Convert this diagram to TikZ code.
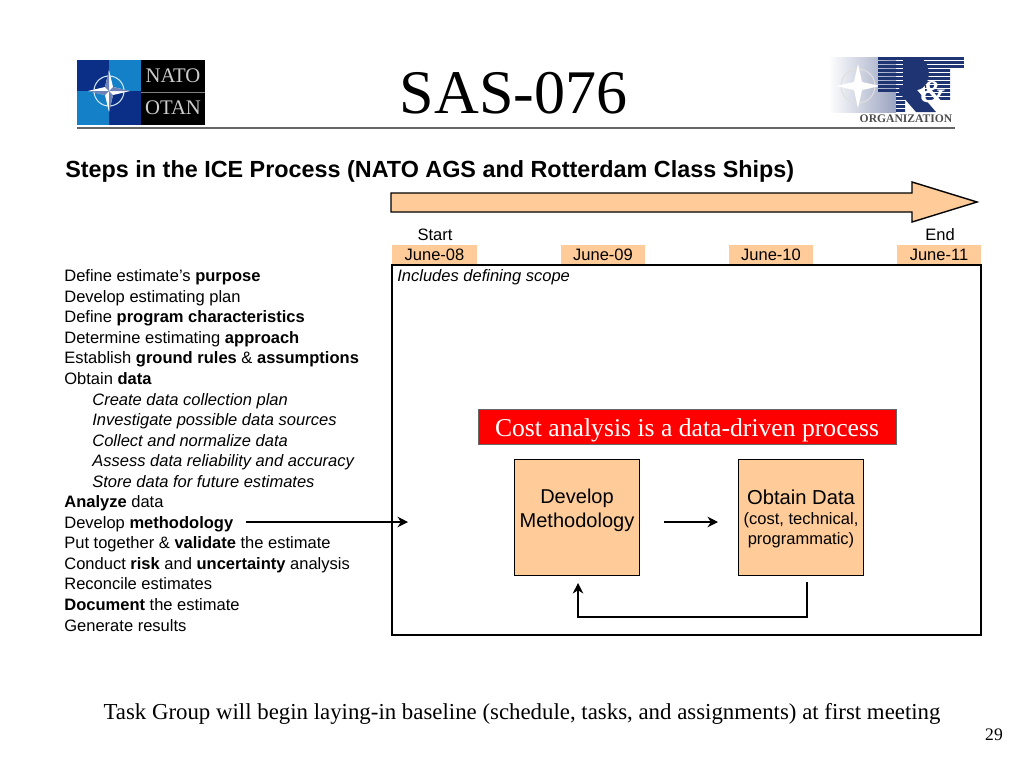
\documentclass[tikz,border=0pt]{standalone}
\usepackage{fontspec}
\setmainfont{Liberation Sans}
\newfontfamily\serifface{Liberation Serif}
\usetikzlibrary{arrows.meta}
\definecolor{tanfill}{HTML}{FFCC99}
\definecolor{natonavy}{HTML}{0B2F86}
\definecolor{natolight}{HTML}{1380C8}
\definecolor{rtnavy}{HTML}{1F3473}
\tikzset{
  listitem/.style={anchor=base west,inner sep=0pt,font=\fontsize{9.4}{11}\selectfont},
  subitem/.style={listitem,font=\fontsize{9.4}{11}\selectfont\itshape},
  datebox/.style={fill=tanfill,minimum width=48pt,minimum height=11pt,inner sep=0pt,font=\fontsize{9.4}{11}\selectfont},
  stepbox/.style={draw,fill=tanfill,minimum width=71pt,minimum height=66pt,inner sep=0pt},
  steptext/.style={inner sep=0pt,align=center,font=\fontsize{11.4}{13.6}\selectfont},
  flow/.style={semithick,-{Stealth[length=6pt,width=6pt]}},
}
\begin{document}
\begin{tikzpicture}[x=0.02cm,y=-0.02cm]
\useasboundingbox (0,0) rectangle (1024,768);
% nato logo
\fill[natonavy] (77,60) rectangle (109,91);
\fill[natolight] (109,60) rectangle (141,91);
\fill[natolight] (77,91) rectangle (109,125);
\fill[natonavy] (109,91) rectangle (141,125);
\fill[black] (141,60) rectangle (205,125);
\draw[gray,thin] (141,92) -- (205,92);
\draw[white!80!natolight,semithick] (109,91) circle [radius=15];
\fill[white] (109,70) -- (113,87) -- (130,91) -- (113,95) -- (109,112) -- (105,95) -- (88,91) -- (105,87) --cycle;
\fill[natonavy!60] (109,91) -- (113,87) -- (130,91) --cycle;
\fill[natonavy!60] (109,91) -- (105,95) -- (88,91) --cycle;
\fill[natonavy!60] (109,91) -- (105,87) -- (109,70) --cycle;
\fill[natonavy!60] (109,91) -- (113,95) -- (109,112) --cycle;
\node[text=white!80!black,inner sep=0pt,font=\serifface\fontsize{11.8}{12}\selectfont] (natoword) at (173,76) {NATO};
\node[text=white!80!black,inner sep=0pt,font=\serifface\fontsize{11.8}{12}\selectfont] (otanword) at (173,108) {OTAN};
% r&t logo
\shade[left color=white,right color=rtnavy!45] (828,57) rectangle (896,112);
\draw[white!75!gray,semithick] (858,86) circle [radius=17];
\fill[white] (858,64) -- (862,82) -- (880,86) -- (862,90) -- (858,108) -- (854,90) -- (836,86) -- (854,82) --cycle;
\begin{scope}
\clip (878,57) -- (964,57) -- (964,68) -- (950,68) -- (950,100) -- (925,100) -- (925,68) -- (905,68) -- (905,112) -- (896,112) -- (896,92) -- (878,92) --cycle;
\foreach \y in {57,61,...,109}
  \fill[rtnavy] (878,\y) rectangle (964,\y+2.5);
\end{scope}
\fill[rtnavy] (903,57) -- (915,57) .. controls (933,57) and (933,88) .. (917,90) -- (936,112) -- (916,112) -- (897,90) -- (903,86) --cycle;
\node[text=white,inner sep=0pt,font=\serifface\bfseries\itshape\fontsize{18}{18}\selectfont] (ampword) at (933,92) {\&};
\node[text=black!70,inner sep=0pt,font=\serifface\bfseries\fontsize{6.6}{7}\selectfont] (orgword) at (906,119) {ORGANIZATION};
% title
\node[inner sep=0pt,font=\serifface\fontsize{35.3}{36}\selectfont] (title) at (513.5,93) {SAS-076};
\draw[black!60,line width=1pt] (77,128) -- (955,128);
\node[anchor=base west,inner sep=0pt,font=\bfseries\fontsize{13.3}{14}\selectfont] (heading) at (65,177) {Steps in the ICE Process (NATO AGS and Rotterdam Class Ships)};
% timeline
\draw[fill=tanfill,thick] (391,193) -- (912,193) -- (912,182) -- (977,202) -- (912,222) -- (912,212) -- (391,212) --cycle;
\node[inner sep=0pt,font=\fontsize{9.4}{11}\selectfont] (start) at (435,235) {Start};
\node[inner sep=0pt,font=\fontsize{9.4}{11}\selectfont] (end) at (940,235) {End};
\node[datebox] (june08) at (434.5,254.5) {June-08};
\node[datebox] (june09) at (603,254.5) {June-09};
\node[datebox] (june10) at (771,254.5) {June-10};
\node[datebox] (june11) at (939,254.5) {June-11};
\draw[line width=0.9pt] (392,265) rectangle (981,635);
\node[subitem] (scope) at (397,281) {Includes defining scope};
% steps
\node[listitem] (item1) at (64,281) {Define estimate’s \textbf{purpose}};
\node[listitem] (item2) at (64,302) {Develop estimating plan};
\node[listitem] (item3) at (64,322) {Define \textbf{program characteristics}};
\node[listitem] (item4) at (64,343) {Determine estimating \textbf{approach}};
\node[listitem] (item5) at (64,363) {Establish \textbf{ground rules} \& \textbf{assumptions}};
\node[listitem] (item6) at (64,384) {Obtain \textbf{data}};
\node[subitem] (sub1) at (92,405) {Create data collection plan};
\node[subitem] (sub2) at (92,425) {Investigate possible data sources};
\node[subitem] (sub3) at (92,446) {Collect and normalize data};
\node[subitem] (sub4) at (92,466) {Assess data reliability and accuracy};
\node[subitem] (sub5) at (92,487) {Store data for future estimates};
\node[listitem] (item7) at (64,507) {\textbf{Analyze} data};
\node[listitem] (item8) at (64,528) {Develop \textbf{methodology}};
\node[listitem] (item9) at (64,548) {Put together \& \textbf{validate} the estimate};
\node[listitem] (item10) at (64,569) {Conduct \textbf{risk} and \textbf{uncertainty} analysis};
\node[listitem] (item11) at (64,589) {Reconcile estimates};
\node[listitem] (item12) at (64,610) {\textbf{Document} the estimate};
\node[listitem] (item13) at (64,631) {Generate results};
% process
\node[fill=red,draw=black!60,minimum width=238pt,minimum height=20pt,inner sep=0pt] (costbar) at (687,426.5) {};
\node[inner sep=0pt,text=white,font=\serifface\fontsize{14.6}{16}\selectfont] (costtext) at (687,430.5) {Cost analysis is a data-driven process};
\node[stepbox] (develop) at (576.5,517) {};
\node[stepbox] (obtain) at (801,517) {};
\node[steptext] (developtext) at (577,510) {Develop\\Methodology};
\node[steptext,font=\fontsize{11.5}{13.6}\selectfont] (obtaintext) at (801,497) {Obtain Data};
\node[steptext,font=\fontsize{9.4}{11.6}\selectfont] (obtainsub) at (801,530) {(cost, technical,\\programmatic)};
\coordinate (methodfrom) at (246,522);
\coordinate (methodto) at (408,522);
\coordinate (flowfrom) at (664,522);
\coordinate (flowto) at (718,522);
\coordinate (loopfrom) at (807,582);
\coordinate (loopto) at (578,583);
\draw[flow] (methodfrom) -- (methodto);
\draw[flow] (flowfrom) -- (flowto);
\draw[flow] (loopfrom) -- (807,617) -- (578,617) -- (loopto);
% footer
\node[inner sep=0pt,font=\serifface\fontsize{13}{14}\selectfont] (baseline) at (522,714) {Task Group will begin laying-in baseline (schedule, tasks, and assignments) at first meeting};
\node[inner sep=0pt,font=\serifface\fontsize{10}{12}\selectfont] (pagenum) at (994,735) {29};
\end{tikzpicture}
\end{document}
